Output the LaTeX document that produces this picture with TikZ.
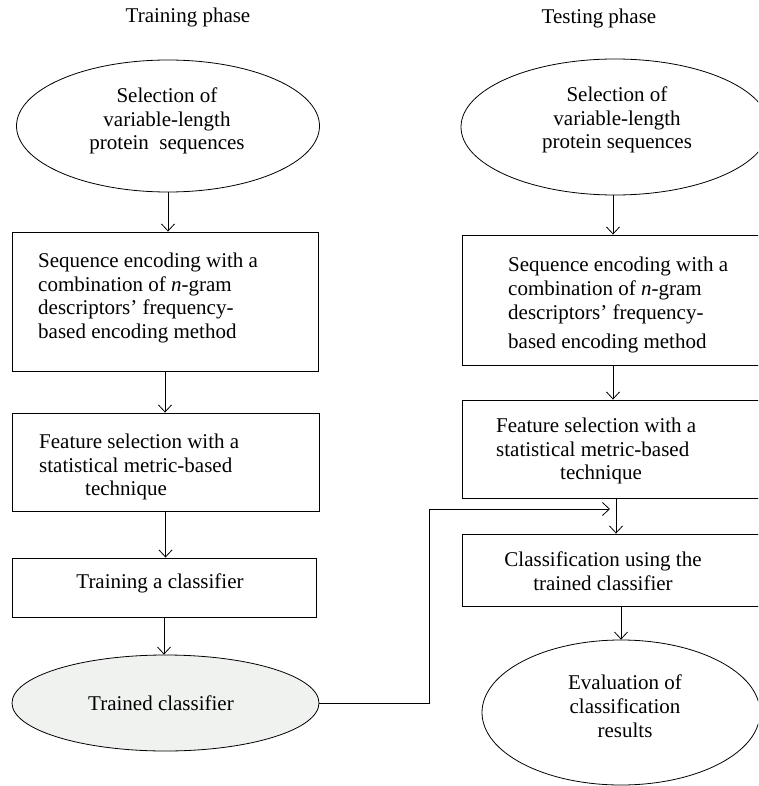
\documentclass[tikz,border=0pt]{standalone}
\usepackage{fontspec}
\setmainfont{Liberation Serif}
\usetikzlibrary{shapes.geometric,arrows.meta}
\definecolor{ovalfill}{HTML}{F0F2F0}
\begin{document}
\begin{tikzpicture}[x=1pt,y=-1pt,
  box/.style={draw, line width=0.9pt, rectangle, inner sep=0pt},
  oval/.style={draw, ellipse, line width=0.8pt, inner sep=0pt},
  txt/.style={font=\fontsize{21}{23.8}\selectfont, inner sep=0pt},
  arr/.style={-{Straight Barb[length=7pt,width=13pt]}, line width=0.8pt}]
\useasboundingbox (0,0) rectangle (758,786);
\clip (0,0) rectangle (758,786);
% titles
\node[txt] (t1) at (188,17) {Training phase};
\node[txt] (t2) at (599,18) {Testing phase};
% left column
\node[oval, minimum width=303pt, minimum height=132pt] (l1) at (168,126) {};
\node[box, minimum width=306pt, minimum height=139pt] (l2) at (165,301.5) {};
\node[box, minimum width=307pt, minimum height=98pt] (l3) at (165.5,462) {};
\node[box, minimum width=304pt, minimum height=59pt] (l4) at (164,587.5) {};
\node[oval, fill=ovalfill, minimum width=307pt, minimum height=96pt] (l5) at (165.5,703) {};
% right column
\node[oval, minimum width=308pt, minimum height=136pt] (r1) at (615,127) {};
\node[box, minimum width=320pt, minimum height=130pt] (r2) at (622,300) {};
\node[box, minimum width=320pt, minimum height=98pt] (r3) at (622,449) {};
\node[box, minimum width=320pt, minimum height=72pt] (r4) at (622,570) {};
\node[oval, minimum width=278pt, minimum height=145pt] (r5) at (621,712.5) {};
% texts left
\node[txt, align=center] (l1t) at (167,121) {Selection of\\ variable-length\\ protein\ \ sequences};
\node[txt, align=left, anchor=west] (l2t) at (38,298) {Sequence encoding with a\\ combination of \textit{n}-gram\\ descriptors’ frequency-\\ based encoding method};
\node[txt, align=left, anchor=west] (l3t) at (39,467) {Feature selection with a\\ statistical metric-based\\ \hspace*{46pt}technique};
\node[txt] (l4t) at (160,583) {Training a classifier};
\node[txt] (l5t) at (161,703) {Trained classifier};
% texts right
\node[txt, align=center] (r1t) at (617,120) {Selection of\\ variable-length\\ protein sequences};
\node[txt, align=left, anchor=west] (r2t) at (508,305) {Sequence encoding with a\\ combination of \textit{n}-gram\\ descriptors’ frequency-\\[5pt] based encoding method};
\node[txt, align=left, anchor=west] (r3t) at (496,451) {Feature selection with a\\ statistical metric-based\\ \hspace*{64pt}technique};
\node[txt, align=center] (r4t) at (603,571) {Classification using the\\ trained classifier};
\node[txt, align=center] (r5t) at (625,706) {Evaluation of\\ classification\\ results};
% connectors left
\draw[arr] (l1.south) -- (l1.south |- l2.north);
\draw[arr] (l2.south) -- (l2.south |- l3.north);
\draw[arr] (l3.south) -- (l3.south |- l4.north);
\draw[arr] (l4.south) -- (l4.south |- l5.north);
% connectors right
\coordinate (rx) at (613,0);
\coordinate (ry) at (616,0);
\draw[arr] (rx |- r1.south) -- (rx |- r2.north);
\draw[arr] (rx |- r2.south) -- (rx |- r3.north);
\draw[arr] (ry |- r3.south) -- (ry |- r4.north);
\draw[arr] (r5.north |- r4.south) -- (r5.north);
% feedback connector
\coordinate (bend) at (429,509);
\coordinate (m) at (610,509);
\draw[arr] (l5.east) -| (bend) -- (m);
\end{tikzpicture}
\end{document}
